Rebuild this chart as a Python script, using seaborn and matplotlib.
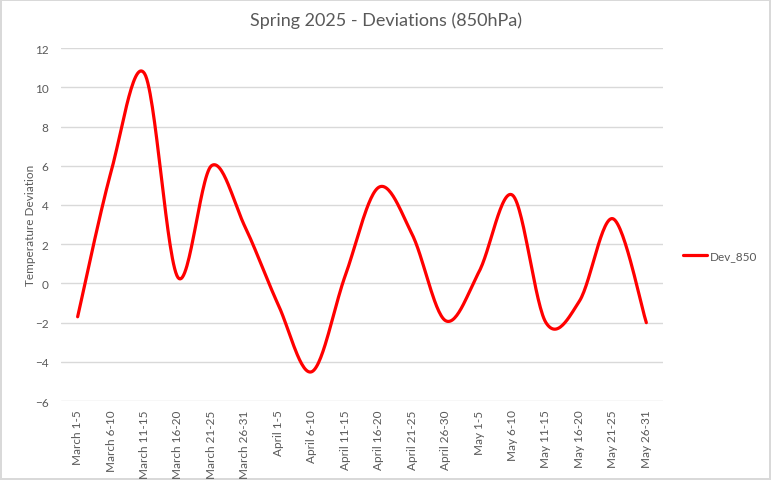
#!/usr/bin/env python3
# -*- coding: utf-8 -*-
"""
Spring 2025 - 850hPa temperature deviations per 5-day period
"""

import matplotlib
matplotlib.use('Agg')
import matplotlib.pyplot as plt
import numpy as np
import pandas as pd
import seaborn as sns

# Data
periods = ['March 1-5', 'March 6-10', 'March 11-15', 'March 16-20', 'March 21-25',
           'March 26-31', 'April 1-5', 'April 6-10', 'April 11-15', 'April 16-20',
           'April 21-25', 'April 26-30', 'May 1-5', 'May 6-10', 'May 11-15',
           'May 16-20', 'May 21-25', 'May 26-31']
dev_850 = [-1.7, 5.7, 10.7, 0.3, 6.0, 2.9, -1.1, -4.5, 0.4, 4.9,
           2.5, -1.9, 0.6, 4.5, -2.0, -0.9, 3.3, -2.0]
y_ticks = [-6, -4, -2, 0, 2, 4, 6, 8, 10, 12]

# Settings
GREY = '#595959'
GRID = '#d9d9d9'
N_STEPS = 30  # points per segment for the smoothed line


def smooth_line(y, n_steps):
    # Excel-style smoothing: cubic Bezier segments with Catmull-Rom tangents
    x = np.arange(len(y), dtype=float)
    y = np.asarray(y, dtype=float)
    px = np.concatenate([[x[0]], x, [x[-1]]])
    py = np.concatenate([[y[0]], y, [y[-1]]])
    xs, ys = [], []
    t = np.linspace(0, 1, n_steps, endpoint=False)
    for i in range(1, len(x)):
        p0 = np.array([px[i], py[i]])
        p3 = np.array([px[i + 1], py[i + 1]])
        c1 = p0 + (p3 - np.array([px[i - 1], py[i - 1]])) / 6
        c2 = p3 - (np.array([px[i + 2], py[i + 2]]) - p0) / 6
        for tt in t:
            b = ((1 - tt) ** 3 * p0 + 3 * (1 - tt) ** 2 * tt * c1
                 + 3 * (1 - tt) * tt ** 2 * c2 + tt ** 3 * p3)
            xs.append(b[0])
            ys.append(b[1])
    xs.append(x[-1])
    ys.append(y[-1])
    return np.array(xs), np.array(ys)


# %% Plot

sns.set_style('white')
plt.rcParams['font.family'] = ['Lato', 'DejaVu Sans']

xs, ys = smooth_line(dev_850, N_STEPS)
curve = pd.DataFrame({'period_pos': xs, 'Dev_850': ys})

f = plt.figure(figsize=(7.71, 4.81), dpi=100)
f.patch.set_edgecolor(GRID)
f.patch.set_linewidth(1.5)
ax1 = f.add_axes([0.079, 0.164, 0.781, 0.734])

sns.lineplot(x='period_pos', y='Dev_850', data=curve, color='#ff0000', linewidth=2.3,
             sort=False, label='Dev_850', ax=ax1)

ax1.set_xlim(-0.5, len(periods) - 0.5)
ax1.set_ylim(y_ticks[0], y_ticks[-1])
ax1.set_yticks(y_ticks)
ax1.set_xticks(range(len(periods)))
ax1.set_xticklabels(periods, rotation=90, fontsize=8.5, color=GREY)
ax1.tick_params(axis='y', labelsize=8.5, labelcolor=GREY, length=0, pad=9)
ax1.tick_params(axis='x', length=0, pad=6)
ax1.grid(axis='y', color=GRID, linewidth=1)
for side in ['top', 'right', 'left', 'bottom']:
    ax1.spines[side].set_visible(False)
ax1.set_xlabel('')
ax1.set_ylabel('Temperature Deviation', fontsize=8.5, color=GREY)
ax1.yaxis.set_label_coords(-0.042, 0.5)
f.suptitle('Spring 2025 - Deviations (850hPa)', fontsize=13, color=GREY, y=0.975)

leg = ax1.legend(loc='center left', bbox_to_anchor=(0.872, 0.467),
                 bbox_transform=f.transFigure, frameon=False, fontsize=8.5,
                 handlelength=2.0, handletextpad=0.3)
for txt in leg.get_texts():
    txt.set_color(GREY)

plt.savefig('out.png', dpi=100)
